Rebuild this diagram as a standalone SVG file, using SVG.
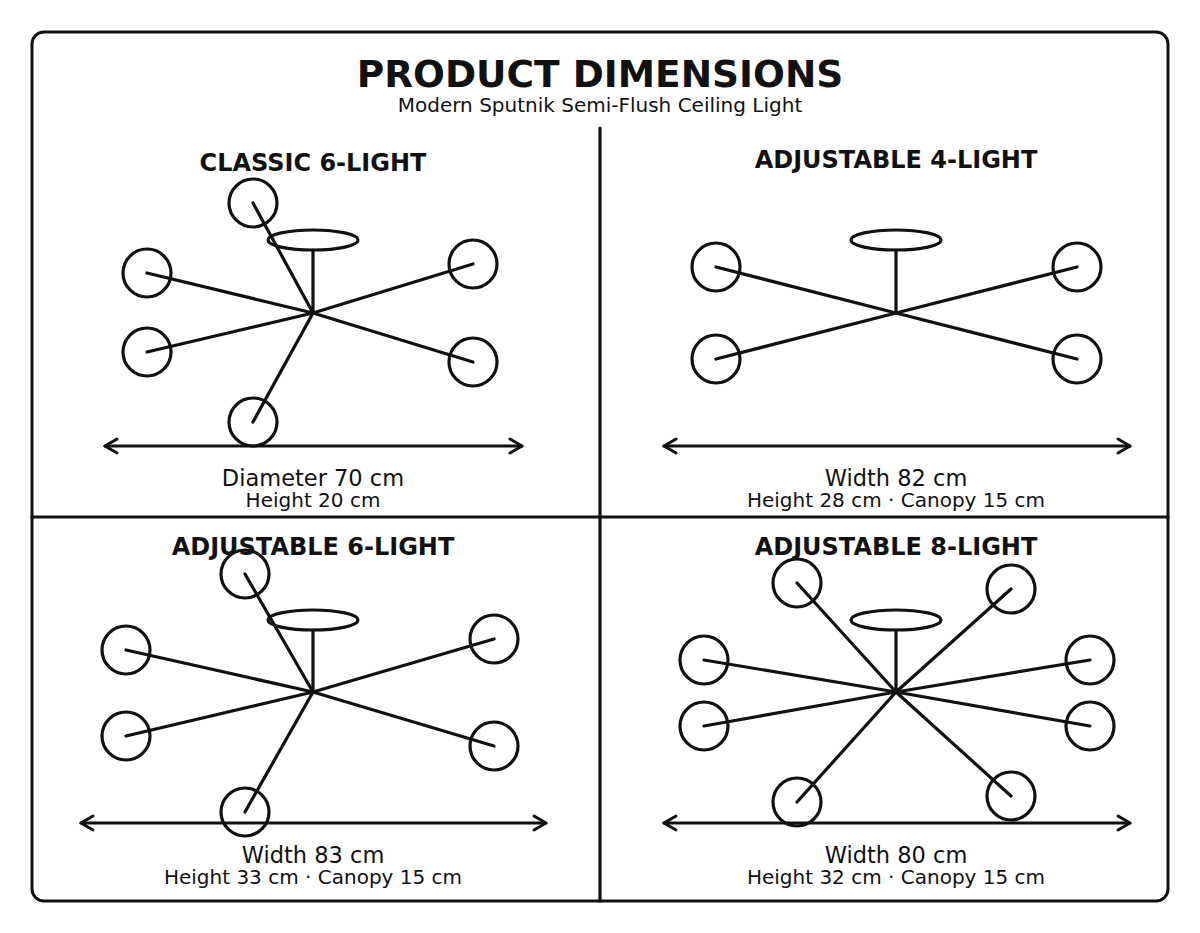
<svg xmlns="http://www.w3.org/2000/svg" width="1200" height="933" viewBox="0 0 1200 933">
<style>
.l{stroke:#111;stroke-width:3.2;fill:none;stroke-linecap:round;stroke-linejoin:round}
.t{font-family:"DejaVu Sans",sans-serif;fill:#111;text-anchor:middle}
.h{font-weight:bold;font-size:24px}
.m{font-size:22.5px}
.s{font-size:20px}
</style>
<defs>
<marker id="a" viewBox="0 0 20 20" refX="16" refY="10" markerWidth="20" markerHeight="20" markerUnits="userSpaceOnUse" orient="auto-start-reverse"><path d="M4,3 L16,10 L4,17" fill="none" stroke="#111" stroke-width="3" stroke-linecap="round" stroke-linejoin="round"/></marker>
</defs>
<rect x="32" y="32" width="1136" height="869" rx="12" fill="#fff" stroke="#111" stroke-width="3"/>
<text class="t" x="600" y="87" font-size="37.5" font-weight="bold">PRODUCT DIMENSIONS</text>
<text class="t s" x="600" y="112">Modern Sputnik Semi-Flush Ceiling Light</text>
<g id="dividers"><path class="l" d="M600,128V901M32,517H1168" stroke-width="2"/></g>
<g id="connectors">
<path class="l" d="M313,250V313M313,313L253,203M313,313L147,273M313,313L147,352M313,313L253,422M313,313L473,264M313,313L473,362"/>
<path class="l" d="M896,250V313M896,313L716,267M896,313L716,359M896,313L1077,267M896,313L1077,359"/>
<path class="l" d="M313,630V692M313,692L245,574M313,692L126,650M313,692L126,736M313,692L245,812M313,692L494,639M313,692L494,746"/>
<path class="l" d="M896,630V692M896,692L797,583M896,692L704,660M896,692L704,726M896,692L797,802M896,692L1011,589M896,692L1090,660M896,692L1090,726M896,692L1011,796"/>
<line class="l" x1="105" y1="446" x2="522" y2="446" marker-start="url(#a)" marker-end="url(#a)"/>
<line class="l" x1="664" y1="446" x2="1130" y2="446" marker-start="url(#a)" marker-end="url(#a)"/>
<line class="l" x1="81" y1="823" x2="546" y2="823" marker-start="url(#a)" marker-end="url(#a)"/>
<line class="l" x1="664" y1="823" x2="1130" y2="823" marker-start="url(#a)" marker-end="url(#a)"/>
</g>
<g id="p1">
<text class="t h" x="313" y="171">CLASSIC 6-LIGHT</text>
<ellipse class="l" cx="313" cy="240" rx="45" ry="10"/>
<g class="l"><circle cx="253" cy="203" r="24"/><circle cx="147" cy="273" r="24"/><circle cx="147" cy="352" r="24"/><circle cx="253" cy="422" r="24"/><circle cx="473" cy="264" r="24"/><circle cx="473" cy="362" r="24"/></g>
<text class="t m" x="313" y="486">Diameter 70 cm</text>
<text class="t s" x="313" y="507">Height 20 cm</text>
</g>
<g id="p2">
<text class="t h" x="896" y="168">ADJUSTABLE 4-LIGHT</text>
<ellipse class="l" cx="896" cy="240" rx="45" ry="10"/>
<g class="l"><circle cx="716" cy="267" r="24"/><circle cx="716" cy="359" r="24"/><circle cx="1077" cy="267" r="24"/><circle cx="1077" cy="359" r="24"/></g>
<text class="t m" x="896" y="486">Width 82 cm</text>
<text class="t s" x="896" y="507">Height 28 cm · Canopy 15 cm</text>
</g>
<g id="p3">
<text class="t h" x="313" y="555">ADJUSTABLE 6-LIGHT</text>
<ellipse class="l" cx="313" cy="620" rx="45" ry="10"/>
<g class="l"><circle cx="245" cy="574" r="24"/><circle cx="126" cy="650" r="24"/><circle cx="126" cy="736" r="24"/><circle cx="245" cy="812" r="24"/><circle cx="494" cy="639" r="24"/><circle cx="494" cy="746" r="24"/></g>
<text class="t m" x="313" y="863">Width 83 cm</text>
<text class="t s" x="313" y="884">Height 33 cm · Canopy 15 cm</text>
</g>
<g id="p4">
<text class="t h" x="896" y="555">ADJUSTABLE 8-LIGHT</text>
<ellipse class="l" cx="896" cy="620" rx="45" ry="10"/>
<g class="l"><circle cx="797" cy="583" r="24"/><circle cx="704" cy="660" r="24"/><circle cx="704" cy="726" r="24"/><circle cx="797" cy="802" r="24"/><circle cx="1011" cy="589" r="24"/><circle cx="1090" cy="660" r="24"/><circle cx="1090" cy="726" r="24"/><circle cx="1011" cy="796" r="24"/></g>
<text class="t m" x="896" y="863">Width 80 cm</text>
<text class="t s" x="896" y="884">Height 32 cm · Canopy 15 cm</text>
</g>
</svg>
